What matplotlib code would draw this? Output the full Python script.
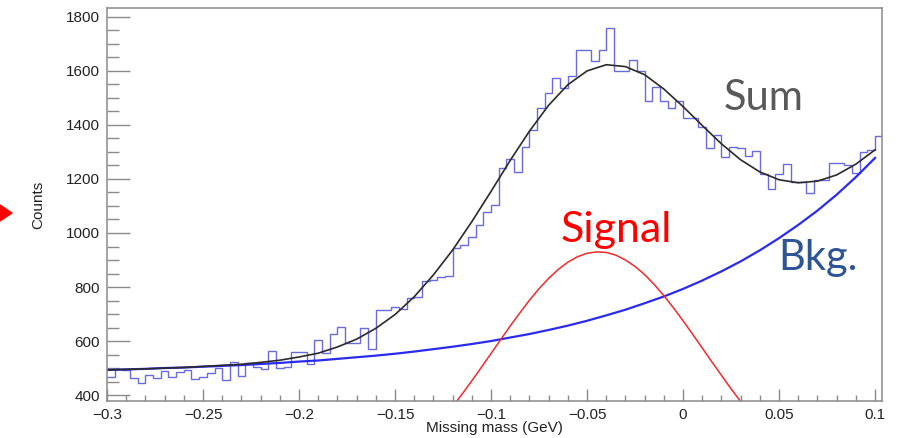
import numpy as np
import matplotlib
matplotlib.use("Agg")
import matplotlib.pyplot as plt
from matplotlib.patches import Polygon

# histogram: 101 bins of 0.004 GeV from -0.3
bin_lo, bin_hi = -0.3, 0.104
counts = [
    466, 497, 494, 462, 443, 474, 462, 490, 466, 486,
    493, 458, 466, 483, 499, 455, 523, 470, 518, 505,
    498, 564, 500, 503, 560, 560, 514, 604, 555, 625,
    653, 592, 592, 648, 570, 715, 715, 727, 718, 760,
    764, 822, 825, 838, 840, 943, 955, 985, 1030, 1079,
    1104, 1240, 1273, 1224, 1318, 1380, 1462, 1520, 1574, 1537,
    1581, 1676, 1676, 1638, 1678, 1760, 1600, 1601, 1640, 1600,
    1488, 1541, 1488, 1464, 1488, 1425, 1425, 1391, 1314, 1363,
    1280, 1319, 1315, 1284, 1305, 1218, 1162, 1217, 1257, 1190,
    1190, 1147, 1196, 1196, 1259, 1259, 1252, 1223, 1299, 1308,
    1360,
]

# fit curves read every 0.01 GeV from -0.30 to 0.10
curve_x = np.linspace(-0.30, 0.10, 41)
bkg = [
    493, 495, 497, 500, 502, 505, 508, 511, 515, 519,
    524, 528, 534, 540, 546, 553, 561, 570, 579, 589,
    600, 613, 626, 641, 657, 675, 695, 716, 740, 765,
    793, 824, 858, 895, 936, 981, 1030, 1083, 1142, 1207,
    1278,
]
total = [
    493, 495, 497, 500, 502, 506, 510, 514, 521, 529,
    541, 555, 578, 607, 647, 698, 764, 845, 937, 1042,
    1154, 1269, 1377, 1473, 1549, 1600, 1623, 1616, 1586, 1533,
    1468, 1398, 1330, 1271, 1226, 1197, 1186, 1192, 1215, 1255,
    1308,
]
# signal read every 0.005 GeV, only where it is above the frame bottom
signal_x = np.linspace(-0.13, 0.04, 35)
signal = [
    274, 315, 358, 404, 453, 503, 554, 605, 656, 704,
    751, 794, 832, 865, 892, 912, 925, 930, 928, 918,
    900, 876, 846, 809, 768, 723, 675, 625, 574, 523,
    473, 423, 376, 332, 290,
]

W, H = 904, 438
fig = plt.figure(figsize=(W / 100, H / 100), dpi=100)
ax = fig.add_axes([107 / W, 1 - 401 / H, 775 / W, 393 / H])

edges = np.linspace(bin_lo, bin_hi, len(counts) + 1)
ax.stairs(counts, edges, baseline=None, color="#6a6ad8", lw=1.0)
ax.plot(curve_x, bkg, color="#2b2bf0", lw=1.6)
ax.plot(signal_x, signal, color="#f22a2a", lw=1.1)
ax.plot(curve_x, total, color="#2a2a2a", lw=1.2)

ax.set_xlim(-0.3, 0.1036)
ax.set_ylim(378, 1833)
ax.set_xticks(np.arange(-0.3, 0.101, 0.05))
ax.set_xticklabels(["\u22120.3", "\u22120.25", "\u22120.2", "\u22120.15", "\u22120.1",
                    "\u22120.05", "0", "0.05", "0.1"])
ax.set_xticks(np.arange(-0.3, 0.101, 0.01), minor=True)
ax.set_yticks(np.arange(400, 1801, 200))
ax.set_yticks(np.arange(400, 1801, 50), minor=True)

for s in ax.spines.values():
    s.set_color("#8a8a8a")
    s.set_linewidth(1.1)

tick_font = dict(family="Liberation Sans", size=11)
ax.tick_params(axis="both", which="both", direction="in", color="#8a8a8a",
               labelcolor="#222222", top=False, right=False)
ax.tick_params(axis="y", which="major", length=16.5, width=1.0, pad=5)
ax.tick_params(axis="y", which="minor", length=8.5, width=1.0)
ax.tick_params(axis="x", which="major", length=8.5, width=1.0, pad=5)
ax.tick_params(axis="x", which="minor", length=4.3, width=1.0)
for lab in ax.get_xticklabels() + ax.get_yticklabels():
    lab.set_fontfamily("Liberation Sans")
    lab.set_fontsize(11)

fig.text(38 / W, 1 - 205 / H, "Counts", rotation=90, ha="center", va="center",
         color="#222222", **tick_font)
fig.text(494 / W, 1 - 428 / H, "Missing mass (GeV)", ha="center", va="center",
         color="#222222", **tick_font)

label_font = dict(family="Lato", size=30)
ax.text(0.0422, 1455, "Sum", ha="center", va="baseline", color="#595959", **label_font)
ax.text(-0.0349, 967, "Signal", ha="center", va="baseline", color="#ff0000",
        family="Lato", size=31)
ax.text(0.0703, 863, "Bkg.", ha="center", va="baseline", color="#2f5496", **label_font)

# red arrow head peeking in from the left edge
tri = Polygon([[0 / W, 1 - 205 / H], [12 / W, 1 - 213 / H], [0 / W, 1 - 221 / H]],
              closed=True, transform=fig.transFigure, color="#ff0000")
fig.patches.append(tri)

fig.savefig("out.png", dpi=100)
